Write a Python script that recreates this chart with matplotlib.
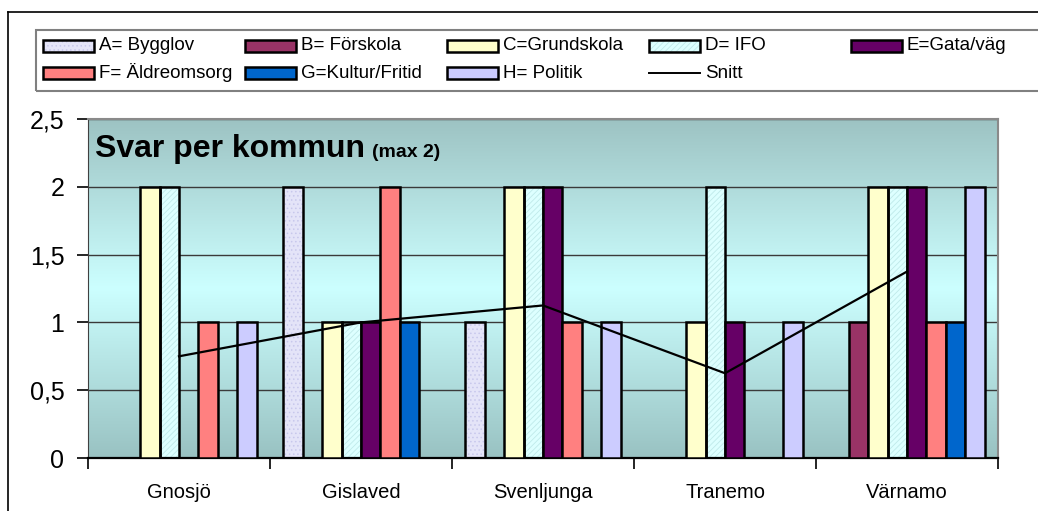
import matplotlib.pyplot as plt
import numpy as np
from matplotlib.colors import LinearSegmentedColormap
from matplotlib.lines import Line2D
from matplotlib.patches import Rectangle

plt.rcParams["font.family"] = ["Liberation Sans", "DejaVu Sans"]
plt.rcParams["hatch.linewidth"] = 0.6

# data
kommuner = ["Gnosjö", "Gislaved", "Svenljunga", "Tranemo", "Värnamo"]
series_labels = [
    "A= Bygglov", "B= Förskola", "C=Grundskola", "D= IFO",
    "E=Gata/väg", "F= Äldreomsorg", "G=Kultur/Fritid", "H= Politik",
]
bygglov = [0, 2, 1, 0, 0]
forskola = [0, 0, 0, 0, 1]
grundskola = [2, 1, 2, 1, 2]
ifo = [2, 1, 2, 2, 2]
gata_vag = [0, 1, 2, 1, 2]
aldreomsorg = [1, 2, 1, 0, 1]
kultur_fritid = [0, 1, 0, 0, 1]
politik = [1, 0, 1, 1, 2]
snitt = [0.75, 1.0, 1.125, 0.625, 1.375]
y_ticks = [0, 0.5, 1, 1.5, 2, 2.5]
y_ticklabels = ["0", "0,5", "1", "1,5", "2", "2,5"]

all_series = [bygglov, forskola, grundskola, ifo, gata_vag, aldreomsorg, kultur_fritid, politik]

# styles
face_colors = ["#E4E4F8", "#993366", "#FFFFCC", "#DDFFFF", "#660066", "#FF8080", "#0066CC", "#CCCCFF"]
hatches = ["....", None, None, "//////", None, None, None, None]
hatch_colors = ["#C8C8EC", None, None, "#BFEAEA", None, None, None, None]

W, H = 1038, 511
fig = plt.figure(figsize=(W / 100, H / 100), dpi=100)
ax = fig.add_axes([88 / W, 1 - 458 / H, 910 / W, 339 / H])

# background gradient (dark at the edges, light in the middle)
cmap = LinearSegmentedColormap.from_list("bg", ["#9DC3C3", "#CCFFFF", "#99C2C2"])
grad = np.linspace(0, 1, 256).reshape(-1, 1)
ax.imshow(grad, cmap=cmap, extent=[0, 5, 0, 2.5], aspect="auto", origin="upper", zorder=0)

x = np.arange(len(kommuner))
width = 0.107
offset = (1 - len(all_series) * width) / 2

for i, vals in enumerate(all_series):
    pos = x + offset + width * (i + 0.5)
    if hatches[i]:
        ax.bar(pos, vals, width, color=face_colors[i], hatch=hatches[i],
               edgecolor=hatch_colors[i], linewidth=0, zorder=2)
        ax.bar(pos, vals, width, facecolor="none", edgecolor="black", linewidth=1.8, zorder=3)
    else:
        ax.bar(pos, vals, width, color=face_colors[i], edgecolor="black", linewidth=1.8, zorder=3)

ax.plot(x + 0.5, snitt, color="black", linewidth=1.6, zorder=4)

# axes
ax.set_xlim(0, 5)
ax.set_ylim(0, 2.5)
ax.set_yticks(y_ticks)
ax.set_yticklabels(y_ticklabels)
ax.set_xticks(range(6))
ax.set_xticklabels([])
ax.set_xticks(x + 0.5, minor=True)
ax.set_xticklabels(kommuner, minor=True)
ax.tick_params(axis="x", which="major", length=8, width=1.2, direction="out")
ax.tick_params(axis="x", which="minor", length=0, pad=18, labelsize=14.5)
ax.tick_params(axis="y", length=8, width=1.2, pad=9, labelsize=18)
ax.set_axisbelow(True)
ax.yaxis.grid(True, color="#3a3a3a", linewidth=1)

ax.spines["top"].set_color("#8a8a8a")
ax.spines["right"].set_color("#8a8a8a")
ax.spines["top"].set_linewidth(1.5)
ax.spines["right"].set_linewidth(1.5)
ax.spines["left"].set_color("#404040")
ax.spines["bottom"].set_color("black")
ax.spines["bottom"].set_linewidth(1.6)

ax.text(0.04, 2.22, "Svar per kommun", fontsize=23, fontweight="bold", va="baseline", zorder=5)
ax.text(1.56, 2.22, "(max 2)", fontsize=14, fontweight="bold", va="baseline", zorder=5)

# outer frame
fig.add_artist(Line2D([8 / W, 8 / W], [0, 1 - 12 / H], color="black", linewidth=1.2))
fig.add_artist(Line2D([8 / W, 1], [1 - 12 / H, 1 - 12 / H], color="black", linewidth=1.2))

# legend, drawn by hand to keep the fixed column grid
fig.add_artist(Rectangle((36 / W, 1 - 91 / H), 1010 / W, 61 / H, fill=False,
                         edgecolor="#808080", linewidth=1.5, transform=fig.transFigure))
legend_items = list(range(len(series_labels))) + ["snitt"]
for k, item in enumerate(legend_items):
    row, col = divmod(k, 5)
    x0 = 43 + col * 202
    yc = 46 + row * 27
    if item == "snitt":
        fig.add_artist(Line2D([x0 / W, (x0 + 51) / W], [1 - yc / H, 1 - yc / H],
                              color="black", linewidth=1.4))
        label = "Snitt"
    else:
        if hatches[item]:
            fig.add_artist(Rectangle((x0 / W, 1 - (yc + 6) / H), 51 / W, 12 / H,
                                     facecolor=face_colors[item], hatch=hatches[item],
                                     edgecolor=hatch_colors[item], linewidth=0,
                                     transform=fig.transFigure))
            fig.add_artist(Rectangle((x0 / W, 1 - (yc + 6) / H), 51 / W, 12 / H,
                                     facecolor="none", edgecolor="black", linewidth=1.8,
                                     transform=fig.transFigure))
        else:
            fig.add_artist(Rectangle((x0 / W, 1 - (yc + 6) / H), 51 / W, 12 / H,
                                     facecolor=face_colors[item], edgecolor="black",
                                     linewidth=1.8, transform=fig.transFigure))
        label = series_labels[item]
    fig.text((x0 + 56) / W, 1 - yc / H, label, fontsize=13.5, va="center", ha="left")

fig.savefig("out.png", dpi=100)
